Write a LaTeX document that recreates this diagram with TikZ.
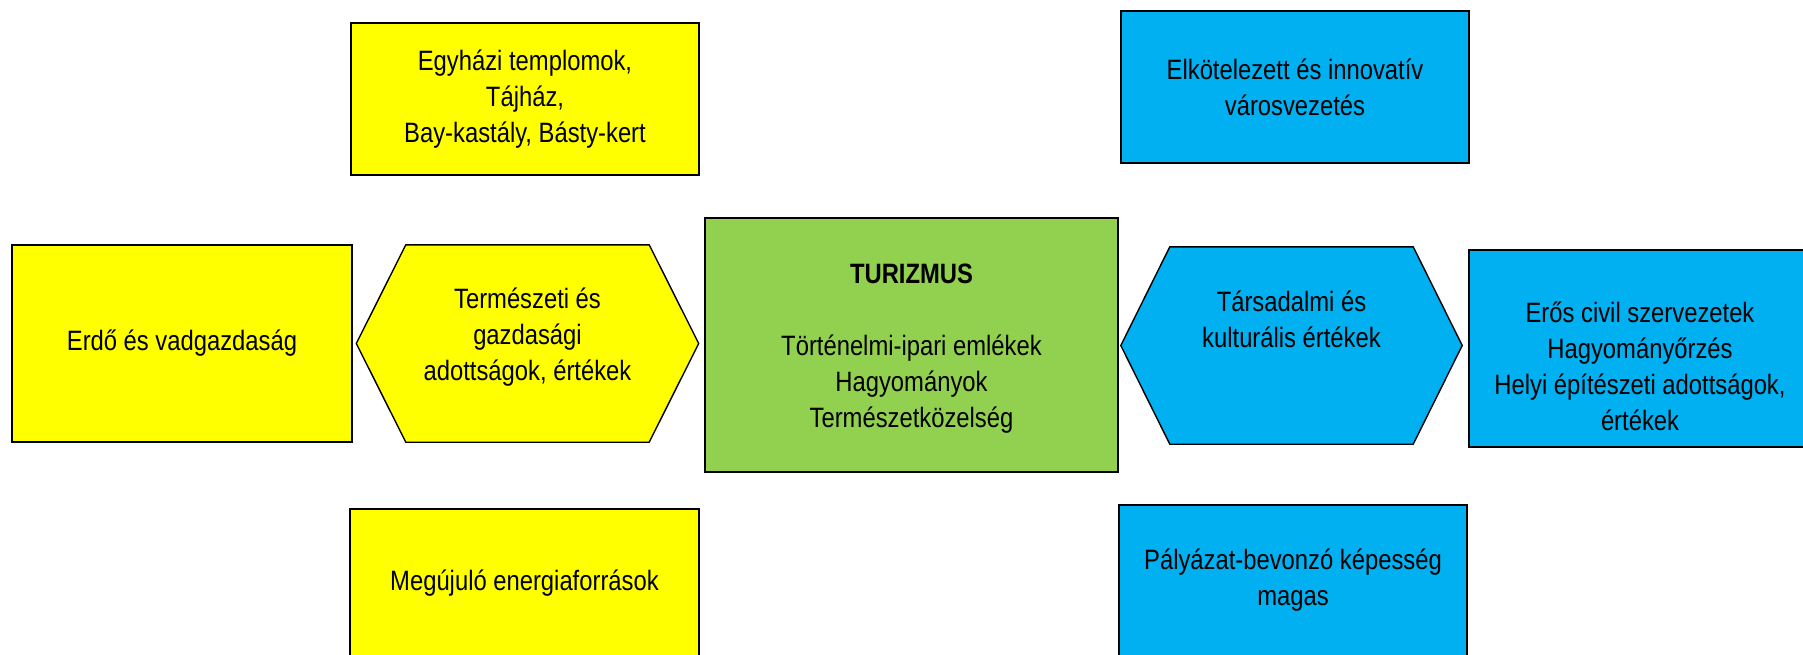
\documentclass[tikz,border=0pt]{standalone}
\usepackage{fontspec}
\usepackage{tikz}
\usetikzlibrary{positioning,calc}
\newfontfamily\boxfont{Liberation Sans}[FakeStretch=0.85]
\definecolor{oyellow}{RGB}{255,255,0}
\definecolor{oblue}{RGB}{0,176,240}
\definecolor{ogreen}{RGB}{146,208,80}
\tikzset{
  box/.style  ={rectangle, draw=black, line width=1.4pt, align=center,
                inner sep=0pt, font=\boxfont\fontsize{28}{36}\selectfont},
  ybox/.style ={box, fill=oyellow},
  bbox/.style ={box, fill=oblue},
  gbox/.style ={box, fill=ogreen},
  core/.style ={rectangle, inner sep=0pt, minimum width=243pt, minimum height=197pt},
  hexa/.style ={draw=black, line width=1.4pt},
  txt/.style  ={align=center, inner sep=0pt, font=\boxfont\fontsize{28}{36}\selectfont}
}

\begin{document}
\begin{tikzpicture}[x=1pt, y=-1pt]
\useasboundingbox (0,0) rectangle (1803,655);
\clip (0,0) rectangle (1803,655);
\fill[white] (0,0) rectangle (1803,655);
% natural and economic side
\node[ybox, minimum width=348pt, minimum height=152pt] (temples) at (525,99)
  {Egyházi templomok,\\Tájház,\\Bay-kastály, Básty-kert};
\node[ybox, minimum width=340pt, minimum height=197pt] (forest) at (182,343.5)
  {Erdő és vadgazdaság};
\node[ybox, minimum width=349pt, minimum height=160pt] (energy) at (524.5,589) {};
\node[txt] (energytxt) at (524.5,583) {Megújuló energiaforrások};
\node[core] (natval) at (527.5,343.5) {};
\draw[hexa, fill=oyellow] (natval.north west) -- (natval.north east)
  -- ([xshift=49.5pt]natval.east) -- (natval.south east)
  -- (natval.south west) -- ([xshift=-49.5pt]natval.west) -- cycle;
\node[txt] (natvaltxt) at ([yshift=6pt]natval.center)
  {Természeti és\\gazdasági\\adottságok, értékek};
% centre
\node[gbox, minimum width=413pt, minimum height=254pt] (tourism) at (911.5,345) {};
\node[txt] (tourismtxt) at ([yshift=-4pt]tourism.center)
  {\textbf{TURIZMUS}\\[36pt]Történelmi-ipari emlékek\\Hagyományok\\Természetközelség};
% social and cultural side
\node[core] (socval) at (1291.5,345.5) {};
\draw[hexa, fill=oblue] (socval.north west) -- (socval.north east)
  -- ([xshift=49pt]socval.east) -- (socval.south east)
  -- (socval.south west) -- ([xshift=-49pt]socval.west) -- cycle;
\node[txt] (socvaltxt) at ([yshift=26pt]socval.center)
  {Társadalmi és\\kulturális értékek};
\node[bbox, minimum width=348pt, minimum height=152pt] (leader) at (1295,87)
  {Elkötelezett és innovatív\\városvezetés};
\node[bbox, minimum width=348pt, minimum height=162pt] (grant) at (1293,586) {};
\node[txt] (granttxt) at (1293,580) {Pályázat-bevonzó képesség\\magas};
\node[bbox, minimum width=342pt, minimum height=197pt] (civil) at (1640,348.5) {};
\node[txt] (civiltxt) at ([yshift=-18pt]civil.center)
  {Erős civil szervezetek\\Hagyományőrzés\\Helyi építészeti adottságok,\\értékek};
\end{tikzpicture}
\end{document}
